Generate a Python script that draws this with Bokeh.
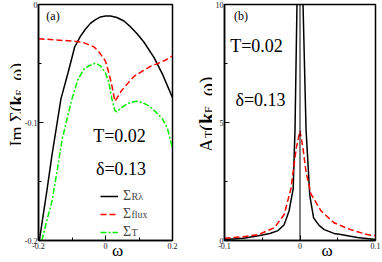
import math
from bokeh.plotting import figure
from bokeh.models import FixedTicker, Label, Legend, LegendItem, Span, Range1d, LinearAxis
from bokeh.layouts import row
from bokeh.embed import file_html
from bokeh.resources import INLINE

# ---------------- data ----------------
# panel (a): Im Sigma(k_F, omega)
a_black_x = [-0.2, -0.19, -0.175, -0.16, -0.147, -0.133, -0.112, -0.092, -0.075, -0.06, -0.045,
             -0.031, -0.015, 0.0, 0.015, 0.034, 0.055, 0.075, 0.095, 0.115, 0.145, 0.17, 0.2]
a_black_y = [-0.205, -0.186, -0.158, -0.128, -0.105, -0.080, -0.058, -0.036, -0.027, -0.021, -0.016,
             -0.013, -0.0105, -0.0098, -0.0098, -0.011, -0.014, -0.019, -0.025, -0.032, -0.045, -0.059, -0.079]

a_red_x = [-0.2, -0.15, -0.1, -0.069, -0.05, -0.034, -0.02, -0.01, 0.0, 0.01, 0.02, 0.028,
           0.035, 0.048, 0.069, 0.085, 0.107, 0.13, 0.156, 0.18, 0.2]
a_red_y = [-0.029, -0.030, -0.031, -0.032, -0.034, -0.036, -0.040, -0.044, -0.048, -0.058, -0.070, -0.082,
           -0.079, -0.073, -0.066, -0.061, -0.057, -0.053, -0.050, -0.047, -0.0435]

a_green_x = [-0.19, -0.175, -0.16, -0.145, -0.13, -0.115, -0.1, -0.083, -0.065, -0.05, -0.03, -0.015,
             0.0, 0.01, 0.019, 0.028, 0.034, 0.045, 0.06, 0.075, 0.092, 0.11, 0.13, 0.15, 0.17, 0.185, 0.2]
a_green_y = [-0.2, -0.183, -0.167, -0.142, -0.115, -0.097, -0.080, -0.064, -0.055, -0.052, -0.0497, -0.052,
             -0.058, -0.066, -0.080, -0.090, -0.091, -0.088, -0.085, -0.083, -0.082, -0.083, -0.086, -0.091,
             -0.097, -0.105, -0.122]

# panel (b): A_T(k_F, omega)
b_black_x = [-0.1, -0.075, -0.055, -0.04, -0.029, -0.021, -0.0145, -0.009, -0.008, -0.0066, -0.004, 0.0,
             0.004, 0.008, 0.0105, 0.013, 0.018, 0.025, 0.032, 0.045, 0.054, 0.076, 0.1]
b_black_y = [0.04, 0.1, 0.2, 0.3, 0.42, 0.67, 1.25, 2.2, 3.3, 4.7, 10.0, 14.0,
             10.0, 4.7, 3.3, 1.9, 0.96, 0.65, 0.46, 0.3, 0.25, 0.13, 0.04]

b_red_x = [-0.1, -0.075, -0.055, -0.034, -0.021, -0.012, -0.005, 0.0, 0.004, 0.008, 0.0145, 0.028,
           0.045, 0.067, 0.089, 0.1]
b_red_y = [0.1, 0.16, 0.25, 0.54, 1.1, 2.2, 3.9, 4.65, 3.9, 2.9, 1.97, 1.25,
           0.75, 0.46, 0.25, 0.2]

a_xticks = [-0.2, 0.0, 0.2]
a_xminor = [-0.1, 0.1]
a_xlabels = ["-0.2", "0", "0.2"]
a_yticks = [-0.2, -0.1, 0.0]
a_yminor = [-0.15, -0.05]
a_ylabels = ["-0.2", "-0.1", "0"]

b_xticks = [-0.1, 0.0, 0.1]
b_xminor = [-0.05, 0.05]
b_xlabels = ["-0.1", "0", "0.1"]
b_yticks = [0, 5, 10]
b_yminor = [2.5, 7.5]
b_ylabels = ["0", "5", "10"]

# x position (data units) at which the omega axis title sits in each panel
a_omega_at = 0.036
b_omega_at = 0.036

legend_names = ["\u03a3", "\u03a3", "\u03a3"]
legend_subs = ["R\u03bb", "flux", "T"]

SERIF = "Liberation Serif"
BLACK = "#000000"
RED = "#ff0000"
GREEN = "#00ee00"
H = 262


def style(p, xt, xm, xl, yt, ym, yl, omega_at):
    p.outline_line_color = "black"
    p.outline_line_width = 1.5
    p.outline_line_alpha = 1.0
    p.grid.visible = False
    p.background_fill_color = "white"
    p.border_fill_color = "white"
    for ax, t, m, l in ((p.xaxis[0], xt, xm, xl), (p.yaxis[0], yt, ym, yl)):
        ax.ticker = FixedTicker(ticks=t, minor_ticks=m)
        ax.major_label_overrides = {tv: lv for tv, lv in zip(t, l)}
        ax.major_tick_in = 5
        ax.major_tick_out = 0
        ax.minor_tick_in = 3
        ax.minor_tick_out = 0
        ax.axis_line_color = "black"
        ax.axis_line_width = 1.5
        ax.major_tick_line_color = "black"
        ax.minor_tick_line_color = "black"
        ax.major_label_text_font = SERIF
        ax.major_label_text_font_size = "8px"
        ax.major_label_text_color = "#222222"
        ax.major_label_standoff = 2
    p.yaxis[0].major_label_standoff = 1
    # omega title drawn as the single tick label of a second, line-less x axis
    om = LinearAxis(ticker=FixedTicker(ticks=[omega_at], minor_ticks=[]),
                    major_label_overrides={omega_at: "\u03c9"},
                    major_label_text_font=SERIF, major_label_text_font_size="17px",
                    major_label_text_color="black", major_label_standoff=-11,
                    major_tick_in=0, major_tick_out=0, minor_tick_in=0, minor_tick_out=0,
                    axis_line_color=None, major_tick_line_color=None, minor_tick_line_color=None)
    p.add_layout(om, "below")


def lab(p, x, y, text, size, angle=0.0, align="center", baseline="middle", bold=False):
    p.add_layout(Label(x=x, y=y, x_units="screen", y_units="screen", text=text,
                       text_font=SERIF, text_font_size=f"{size}px", angle=angle,
                       text_align=align, text_baseline=baseline,
                       text_font_style="bold" if bold else "normal", text_color="black"))


def strip(width):
    s = figure(width=width, height=H, x_range=Range1d(0, 1), y_range=Range1d(0, 1),
               x_axis_type=None, y_axis_type=None, output_backend="svg", toolbar_location=None,
               min_border_left=0, min_border_right=0, min_border_top=0, min_border_bottom=0)
    s.outline_line_color = None
    s.grid.visible = False
    s.background_fill_color = "white"
    s.border_fill_color = "white"
    return s


ang = math.pi / 2

# ---------------- y label strip for (a) ----------------
la = strip(21)
ya = 94
lab(la, 16, ya, "Im \u03a3(", 18, angle=ang, align="left", baseline="alphabetic")
lab(la, 16, ya + 41.1, "k", 18, angle=ang, align="left", baseline="alphabetic", bold=True)
lab(la, 18.7, ya + 51.1, "F", 10, angle=ang, align="left", baseline="alphabetic")
lab(la, 16, ya + 56.7, ", \u03c9)", 18, angle=ang, align="left", baseline="alphabetic")

# ---------------- panel (a) ----------------
pa = figure(width=167, height=H, x_range=Range1d(-0.2, 0.2), y_range=Range1d(-0.2, 0.0),
            output_backend="svg", toolbar_location=None,
            min_border_left=14, min_border_right=16, min_border_top=4, min_border_bottom=19)
style(pa, a_xticks, a_xminor, a_xlabels, a_yticks, a_yminor, a_ylabels, a_omega_at)

r1 = pa.line(a_black_x, a_black_y, line_color=BLACK, line_width=1.5)
r2 = pa.line(a_red_x, a_red_y, line_color=RED, line_width=1.5, line_dash="6 3")
r3 = pa.line(a_green_x, a_green_y, line_color=GREEN, line_width=1.5, line_dash="6 2 2 2")
rs = [r1, r2, r3]

leg = Legend(items=[LegendItem(label=n, renderers=[r]) for n, r in zip(legend_names, rs)],
             location=(62, -0.5), label_text_font=SERIF, label_text_font_size="14px",
             glyph_width=18, glyph_height=18, label_height=18, label_standoff=5, spacing=0,
             padding=0, margin=0, border_line_alpha=0, background_fill_alpha=0)
pa.add_layout(leg)
# subscripts: a twin legend with the same row geometry, no glyphs
leg2 = Legend(items=[LegendItem(label=s, renderers=[r]) for s, r in zip(legend_subs, rs)],
              location=(93.5, -1.5), label_text_font=SERIF, label_text_font_size="10px",
              glyph_width=0, glyph_height=18, label_height=18, label_standoff=0, spacing=0,
              padding=0, margin=0, border_line_alpha=0, background_fill_alpha=0)
pa.add_layout(leg2)

lab(pa, 14.5, 224.5, "(a)", 12)
lab(pa, 81, 104.5, "T=0.02", 18)
lab(pa, 82.5, 72, "\u03b4=0.13", 18)

# ---------------- y label strip for (b) ----------------
lb = strip(24)
yb = 88
lab(lb, 18, yb, "A", 20, angle=ang, align="left", baseline="alphabetic")
lab(lb, 20, yb + 14.4, "T", 12, angle=ang, align="left", baseline="alphabetic")
lab(lb, 18, yb + 21.7, "(", 20, angle=ang, align="left", baseline="alphabetic")
lab(lb, 18, yb + 28.4, "k", 20, angle=ang, align="left", baseline="alphabetic", bold=True)
lab(lb, 20, yb + 39.5, "F", 12, angle=ang, align="left", baseline="alphabetic")
lab(lb, 18, yb + 46.2, ", \u03c9)", 20, angle=ang, align="left", baseline="alphabetic")

# ---------------- panel (b) ----------------
pb = figure(width=170, height=H, x_range=Range1d(-0.1, 0.1), y_range=Range1d(0, 10),
            output_backend="svg", toolbar_location=None,
            min_border_left=11, min_border_right=7, min_border_top=4, min_border_bottom=19)
style(pb, b_xticks, b_xminor, b_xlabels, b_yticks, b_yminor, b_ylabels, b_omega_at)

pb.add_layout(Span(location=0, dimension="height", line_color="black", line_width=1))
pb.line(b_black_x, b_black_y, line_color=BLACK, line_width=1.5)
pb.line(b_red_x, b_red_y, line_color=RED, line_width=1.5, line_dash="6 3")

lab(pb, 16.5, 224.5, "(b)", 12)
lab(pb, 32, 195, "T=0.02", 18)
lab(pb, 36, 140.5, "\u03b4=0.13", 18)

layout = row(la, pa, lb, pb)
open("out.html", "w").write(file_html(layout, INLINE))
